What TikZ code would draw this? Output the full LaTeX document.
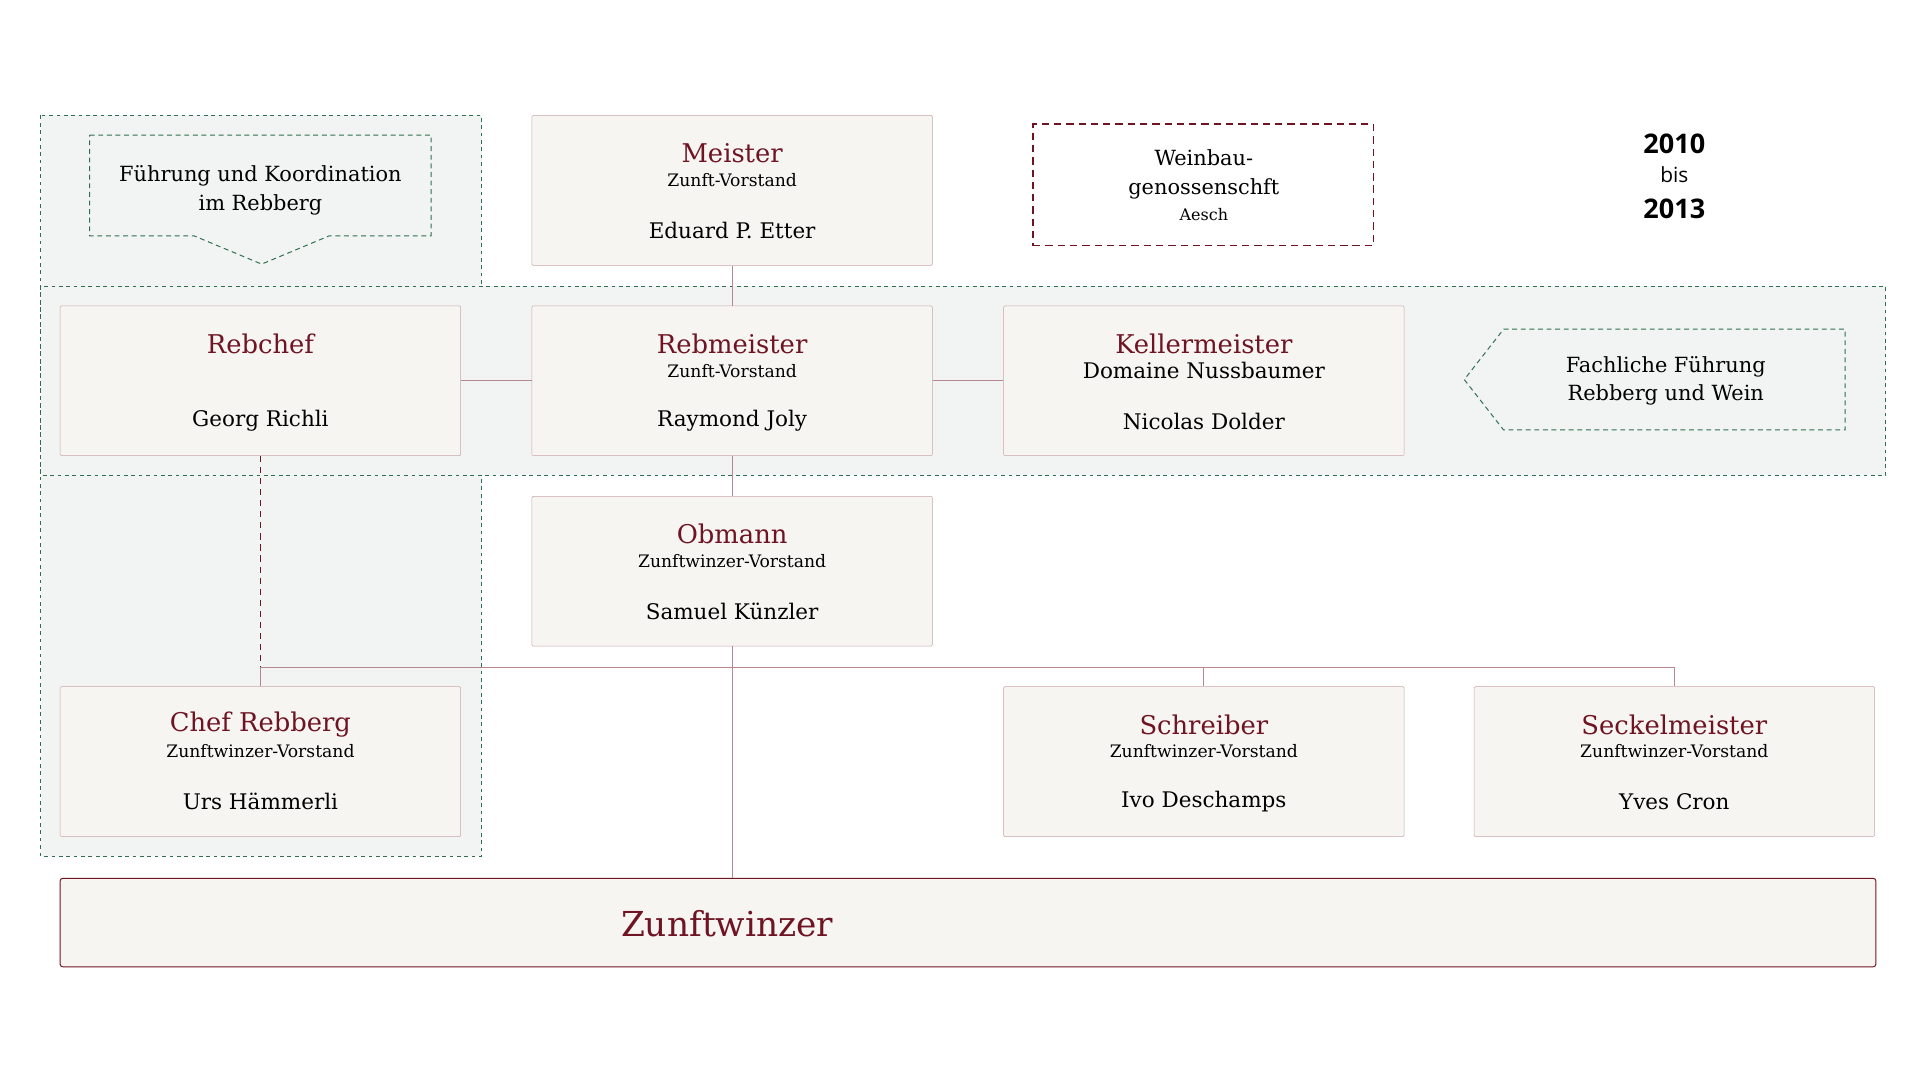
\documentclass[tikz,border=0pt]{standalone}
\usepackage{fontspec}
\setmainfont{DejaVu Serif}
\newfontfamily\jahrfont{Open Sans}
\usetikzlibrary{positioning}
\definecolor{weinrot}{HTML}{6E1423}
\definecolor{rahmen}{HTML}{C9A3AA}
\definecolor{papier}{HTML}{F7F5F1}
\definecolor{gruen}{HTML}{2F6F4F}
\definecolor{zone}{HTML}{F2F4F4}
\tikzset{
  amt/.style={draw=rahmen, fill=papier, rounded corners=1pt, minimum width=326pt, minimum height=122pt, inner sep=0pt},
  titel/.style={text=weinrot, font=\fontsize{21}{23}\selectfont, inner sep=0pt},
  gremium/.style={font=\fontsize{14}{16}\selectfont, inner sep=0pt},
  person/.style={font=\fontsize{17.5}{19}\selectfont, inner sep=0pt},
  linie/.style={draw=rahmen!80!weinrot, line width=0.8pt},
  bereich/.style={draw=gruen, dashed, line width=0.8pt, fill=zone},
  hinweis/.style={draw=gruen, dash pattern=on 4pt off 3pt, line width=0.8pt, fill=zone},
}
\newcommand{\posten}[6]{%
  \node[amt] (#1) at (#2,#3) {};
  \node[titel] (#1-titel) at ([yshift=-31pt]#1.north) {#4};
  \node[gremium] (#1-gremium) at ([yshift=-53pt]#1.north) {#5};
  \node[person] (#1-person) at ([yshift=-94pt]#1.north) {#6};
}
\begin{document}
\begin{tikzpicture}[x=1pt,y=-1pt]
\useasboundingbox (0,0) rectangle (1563,880);
% Bereiche
\draw[bereich] (33,94) rectangle (392,697);
\draw[bereich] (33,233) rectangle (1535,387);
% Hinweise
\draw[hinweis] (73,110) -- (351,110) -- (351,192) -- (268,192) -- (213,215) -- (158,192) -- (73,192) -- cycle;
\node[font=\fontsize{17}{23}\selectfont, align=center] (fuehrung) at (212,155) {Führung und Koordination\\im Rebberg};
\draw[hinweis] (1224,268) -- (1502,268) -- (1502,350) -- (1224,350) -- (1192,309) -- cycle;
\node[font=\fontsize{17}{23}\selectfont, align=center] (fachlich) at (1356,310) {Fachliche Führung\\Rebberg und Wein};
\node[draw=weinrot, dash pattern=on 6pt off 4pt, line width=1.2pt, minimum width=277pt, minimum height=99pt] (genossen) at (979.5,150.5) {};
\node[font=\fontsize{17}{23}\selectfont, align=center] (genossen-text) at (980,142) {Weinbau-\\genossenschft};
\node[font=\fontsize{13}{15}\selectfont] (aesch) at (980,175) {Aesch};
% Jahre
\node[font=\jahrfont\bfseries\fontsize{22}{24}\selectfont] (von) at (1363,117) {2010};
\node[font=\jahrfont\fontsize{17}{19}\selectfont] (bis) at (1363,142) {bis};
\node[font=\jahrfont\bfseries\fontsize{22}{24}\selectfont] (bisjahr) at (1363,170) {2013};
% Aemter
\posten{meister}{596}{155}{Meister}{Zunft-Vorstand}{Eduard P. Etter}
\posten{rebmeister}{596}{310}{Rebmeister}{Zunft-Vorstand}{Raymond Joly}
\posten{obmann}{596}{465}{Obmann}{Zunftwinzer-Vorstand}{Samuel Künzler}
\posten{rebchef}{212}{310}{Rebchef}{}{Georg Richli}
\posten{keller}{980}{310}{Kellermeister}{\fontsize{17.5}{19}\selectfont Domaine Nussbaumer}{Nicolas Dolder}
\posten{chefrebberg}{212}{620}{Chef Rebberg}{Zunftwinzer-Vorstand}{Urs Hämmerli}
\posten{schreiber}{980}{620}{Schreiber}{Zunftwinzer-Vorstand}{Ivo Deschamps}
\posten{seckel}{1363}{620}{Seckelmeister}{Zunftwinzer-Vorstand}{Yves Cron}
\node[draw=weinrot, fill=papier, rounded corners=2pt, line width=0.8pt, minimum width=1478pt, minimum height=72pt] (zunft) at (788,751) {};
\node[text=weinrot, font=\fontsize{28}{30}\selectfont] (zunft-titel) at (592,752) {Zunftwinzer};
% Verbindungen
\coordinate (bus) at (596,543);
\draw[linie] (meister) -- (rebmeister);
\draw[linie] (rebchef) -- (rebmeister);
\draw[linie] (rebmeister) -- (keller);
\draw[linie] (rebmeister) -- (obmann);
\draw[linie] (obmann.south) -- (obmann.south |- zunft.north);
\draw[linie] (chefrebberg.north) |- (bus) -| (seckel.north);
\draw[linie] (bus) -| (schreiber.north);
\draw[linie, draw=weinrot, dash pattern=on 5pt off 4pt] (rebchef.south) -- (rebchef.south |- bus);
\end{tikzpicture}
\end{document}
